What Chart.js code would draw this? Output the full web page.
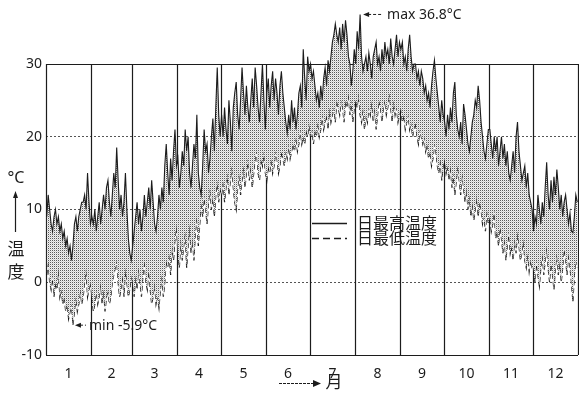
<!DOCTYPE html>
<html lang="ja">
<head>
<meta charset="utf-8">
<title>日最高温度・日最低温度</title>
<script src="https://cdn.jsdelivr.net/npm/chart.js@4/dist/chart.umd.min.js"></script>
<style>
    html, body { margin: 0; padding: 0; background: #fff; }
    #wrap { width: 579px; height: 393px; }
</style>
</head>
<body>
<div id="wrap"><canvas id="tempChart" width="579" height="393"></canvas></div>
<script>
// --- Data (one row per month) ---
const monthLabels = ['1', '2', '3', '4', '5', '6', '7', '8', '9', '10', '11', '12'];
const monthDays = [31, 28, 31, 30, 31, 30, 31, 31, 30, 31, 30, 31];
const yTicks = [-10, 0, 10, 20, 30];
const seriesLabels = ['日最高温度', '日最低温度'];

const dailyHigh = [
    [9, 12, 10, 8, 7, 9, 10, 8, 9, 7, 8, 6, 7, 5, 6, 4, 5, 3, 5, 8, 9, 7, 9, 10, 11, 11, 12, 10, 15, 11, 8],
    [9, 8, 10, 7, 9, 11, 8, 10, 12, 10, 13, 14, 11, 9, 12, 15, 13, 18.5, 14, 10, 12, 9, 11, 15, 10, 6, 4, 3],
    [5, 7, 9, 11, 8, 10, 7, 9, 12, 9, 11, 13, 10, 14, 11, 8, 7, 9, 12, 10, 13, 11, 16, 19, 15, 12, 17, 14, 18, 21, 16],
    [17, 13, 15, 18, 16, 21, 18, 20, 15, 13, 16, 19, 17, 23, 15, 13, 12, 16, 21, 18, 19, 15, 17, 20, 22.5, 18, 24, 29.5, 23, 20],
    [23, 20, 24, 21, 19, 25, 22, 18, 24, 26, 27.5, 23, 21, 25, 29.5, 26, 23, 27, 24, 22, 25, 28, 24, 29.5, 27, 24, 22, 26, 30, 25, 21],
    [26, 28, 24, 27, 29, 25, 28, 26, 23, 27, 29, 26, 24, 22, 20.5, 23, 21, 25, 22, 24, 21, 23, 26, 27, 24, 32, 28, 25, 31, 29],
    [30, 28, 29, 27, 25, 26, 24, 27, 25, 28, 29.5, 27, 30.5, 29, 31, 33, 34, 35.5, 34, 33, 35, 32, 35.5, 33, 36, 34, 31, 30, 27, 29, 32],
    [30, 34.5, 32, 36.8, 31, 29, 30, 31, 29, 31.5, 30, 28, 31, 32, 33, 30, 31, 29, 32, 30, 33, 31, 32, 30, 33.5, 31, 30, 32, 34, 31, 33],
    [32, 33, 30, 31, 29, 32, 34, 31, 29, 30, 30, 28, 29, 27, 29, 28, 26, 27, 25, 26, 24, 27, 29, 30.5, 28, 26, 24, 22, 25, 23],
    [22, 20, 23, 21, 24, 22, 26, 27.5, 23, 21, 20, 22, 19, 24.5, 23, 21, 19, 18, 20, 22, 23, 25, 24, 27, 25, 22, 20, 18, 17, 19, 21],
    [21, 19, 17, 20, 18, 20, 16, 18, 20, 17, 19, 16, 18, 15, 14, 16, 18, 15, 20, 22, 18, 16, 14, 15, 16, 13, 15, 12, 11, 10],
    [7, 9, 8, 12, 10, 8, 11, 9, 13, 16.5, 12, 10, 14, 11, 14.5, 12, 15.5, 13, 10, 12, 9, 11, 12, 10, 8, 9.5, 7, 6.8, 9, 12, 11]
];

const dailyLow = [
    [1, 3, 0, -1, 1, -2, 0, -1, 2, -2, -1, -3, -2, -4, -3, -5, -4, -3, -5.9, -4, -2, -4, -3, -1, -3, -2, 0, 2, -2, -1, 0],
    [-2, -4, -3, -1, -3, -2, 0, -3, -1, -4, -2, -1, -3, -2, 0, 1, 2, 3, 0, -2, -1, 1, -2, 2, 0, -2, -1, 1],
    [0, -2, 1, -1, 2, 0, -2, 1, 3, 0, -1, 2, -1, -3, -2, 0, -3, -2, -3.5, -1, 1, -2, 0, 3, 2, 4, 1, 5, 3, 6, 8],
    [4, 2, 6, 3, 5, 7, 2, 5, 8, 4, 6, 3, 7, 9, 5, 8, 11, 9, 12, 10, 8, 11, 13, 10, 12, 9, 12, 14, 11, 13],
    [12, 14, 11, 13, 15, 12, 14, 16, 13, 11, 10, 13, 15, 12, 14, 16, 13, 15, 17, 14, 16, 13, 15, 17, 18, 15, 14, 17, 16, 18, 15],
    [14, 16, 15, 17, 15, 16, 18, 17, 15, 16, 18, 17, 16, 18, 17, 19, 17, 18, 19, 18, 20, 18, 19, 21, 19, 20, 19, 21, 20, 22],
    [20, 21, 19, 21, 20, 22, 20, 21, 23, 21, 22, 23, 21, 24, 22, 23, 24, 22, 25, 24, 23, 25, 24, 22, 25, 24, 26, 23, 25, 22, 24],
    [25, 24, 26, 23, 22, 24, 21, 23, 22, 24, 23, 25, 22, 24, 21, 23, 25, 24, 22, 24, 25, 23, 24, 26, 24, 22, 25, 23, 24, 22, 23],
    [24, 22, 23, 21, 22, 23, 21, 22, 20, 21, 22, 20, 19, 21, 20, 19, 20, 18, 19, 17, 18, 16, 17, 19, 18, 16, 15, 17, 14, 16],
    [17, 15, 16, 14, 16, 13, 15, 12, 14, 16, 14, 12, 15, 13, 11, 13, 10, 12, 9, 11, 8.5, 10, 12, 9, 11, 10, 8, 9, 7, 10, 8],
    [9, 7, 8, 10, 6, 7, 5, 8, 6, 4, 6, 3, 5, 7, 4, 5, 3, 6, 4, 7, 5, 3, 4, 6, 3, 2, 4, 1.5, 3, 2],
    [2, 0, 3, 1, -0.5, 2, 4, 1, 3, 5, 2, 0, 3, 1, -1, 2, 4, 1, 3, 0, 2, 5, 3, 1, 4, 2, 0, -2.7, 1, 3, 2]
];

// --- Derived values ---
const monthStarts = monthDays.reduce((acc, d) => { acc.push(acc[acc.length - 1] + d); return acc; }, [0]);
const monthCenters = monthDays.map((d, i) => monthStarts[i] + d / 2);
const toPoints = rows => rows.flat().map((v, i) => ({ x: i + 0.5, y: v }));

const INK = '#1c1c1c';
const NUM_FONT = '"Noto Sans", sans-serif';
const JP_FONT = '"Noto Sans CJK JP", sans-serif';

// halftone dots for the band between the two lines
function dotPattern() {
    const c = document.createElement('canvas');
    c.width = 2; c.height = 2;
    const g = c.getContext('2d');
    g.fillStyle = '#f0f0f0'; g.fillRect(0, 0, 2, 2);
    g.fillStyle = '#5a5a5a'; g.fillRect(0, 0, 1, 1);
    g.fillStyle = '#d0d0d0'; g.fillRect(1, 1, 1, 1);
    return g.createPattern(c, 'repeat');
}

function arrowLeft(ctx, tipX, endX, y) {
    ctx.setLineDash([3, 2]);
    ctx.beginPath(); ctx.moveTo(tipX + 5, y); ctx.lineTo(endX, y); ctx.stroke();
    ctx.setLineDash([]);
    ctx.beginPath();
    ctx.moveTo(tipX, y); ctx.lineTo(tipX + 6, y - 2.5); ctx.lineTo(tipX + 6, y + 2.5);
    ctx.closePath(); ctx.fill();
}

// month frame: vertical lines at month boundaries, solid top (30) and bottom (-10)
const frame = {
    id: 'frame',
    beforeDatasetsDraw(chart) {
        const { ctx, scales: { x, y } } = chart;
        const top = y.getPixelForValue(30), bottom = y.getPixelForValue(-10);
        ctx.save();
        ctx.strokeStyle = INK;
        ctx.lineWidth = 1.2;
        monthStarts.forEach(d => {
            const px = Math.round(x.getPixelForValue(d)) + 0.5;
            ctx.beginPath(); ctx.moveTo(px, top); ctx.lineTo(px, bottom); ctx.stroke();
        });
        [top, bottom].forEach(py => {
            ctx.beginPath();
            ctx.moveTo(x.getPixelForValue(0), Math.round(py) + 0.5);
            ctx.lineTo(x.getPixelForValue(365), Math.round(py) + 0.5);
            ctx.stroke();
        });
        ctx.restore();
    },
    afterDatasetsDraw(chart) {
        const { ctx, scales: { x, y } } = chart;
        const hi = chart.data.datasets[0].data;
        const lo = chart.data.datasets[1].data;
        const maxPt = hi.reduce((a, b) => (b.y > a.y ? b : a));
        const minPt = lo.reduce((a, b) => (b.y < a.y ? b : a));

        ctx.save();
        ctx.fillStyle = INK;
        ctx.strokeStyle = INK;
        ctx.lineWidth = 1;
        ctx.textBaseline = 'middle';
        ctx.textAlign = 'left';
        ctx.font = '14px ' + NUM_FONT;

        // max / min callouts
        let px = x.getPixelForValue(maxPt.x), py = y.getPixelForValue(maxPt.y);
        arrowLeft(ctx, px + 3, px + 23, py);
        ctx.fillText('max ' + maxPt.y.toFixed(1) + '°C', px + 27, py + 1);

        px = x.getPixelForValue(minPt.x); py = y.getPixelForValue(minPt.y);
        arrowLeft(ctx, px + 2, px + 13, py);
        ctx.fillText('min -' + Math.abs(minPt.y).toFixed(1) + '°C', px + 16, py + 1);

        // legend
        const lx = 312, ly = 223;
        ctx.lineWidth = 1.3;
        ctx.beginPath(); ctx.moveTo(lx, ly + 0.5); ctx.lineTo(lx + 35, ly + 0.5); ctx.stroke();
        ctx.setLineDash([7, 4]);
        ctx.beginPath(); ctx.moveTo(lx, ly + 15.5); ctx.lineTo(lx + 35, ly + 15.5); ctx.stroke();
        ctx.setLineDash([]);
        ctx.font = '16px ' + JP_FONT;
        ctx.fillText(seriesLabels[0], lx + 45, ly);
        ctx.fillText(seriesLabels[1], lx + 45, ly + 15);

        // y title: °C ↑ 温 度
        ctx.textAlign = 'center';
        ctx.font = '16px ' + NUM_FONT;
        ctx.fillText('°C', 16, 178);
        ctx.lineWidth = 1.2;
        ctx.beginPath(); ctx.moveTo(15.5, 232); ctx.lineTo(15.5, 196); ctx.stroke();
        ctx.beginPath(); ctx.moveTo(15.5, 191); ctx.lineTo(13, 198); ctx.lineTo(18, 198); ctx.closePath(); ctx.fill();
        ctx.font = '17px ' + JP_FONT;
        ctx.fillText('温', 16, 249);
        ctx.fillText('度', 16, 272);

        // x title: ──▸月
        ctx.setLineDash([3, 1]);
        ctx.beginPath(); ctx.moveTo(279, 383.5); ctx.lineTo(314, 383.5); ctx.stroke();
        ctx.setLineDash([]);
        ctx.beginPath(); ctx.moveTo(321, 383.5); ctx.lineTo(313, 380); ctx.lineTo(313, 387); ctx.closePath(); ctx.fill();
        ctx.font = '17px ' + JP_FONT;
        ctx.fillText('月', 334, 382);
        ctx.restore();
    }
};

new Chart(document.getElementById('tempChart'), {
    type: 'line',
    data: {
        datasets: [
            {
                label: seriesLabels[0],
                data: toPoints(dailyHigh),
                borderColor: INK,
                borderWidth: 1.1,
                backgroundColor: dotPattern(),
                fill: '+1',
                pointRadius: 0,
                tension: 0
            },
            {
                label: seriesLabels[1],
                data: toPoints(dailyLow),
                borderColor: '#111',
                borderWidth: 1.2,
                borderDash: [5, 3],
                fill: false,
                pointRadius: 0,
                tension: 0
            }
        ]
    },
    options: {
        responsive: false,
        animation: false,
        layout: { padding: { top: 13, right: 1, left: 0, bottom: 0 } },
        plugins: { legend: { display: false }, tooltip: { enabled: false } },
        scales: {
            x: {
                type: 'linear',
                min: 0,
                max: 365,
                grid: { display: false },
                border: { display: false },
                afterBuildTicks: axis => { axis.ticks = monthCenters.map(v => ({ value: v })); },
                afterFit: scale => { scale.height = 38; },
                ticks: {
                    autoSkip: false,
                    maxRotation: 0,
                    padding: 3,
                    color: INK,
                    font: { family: NUM_FONT, size: 14 },
                    callback: (value, index) => monthLabels[index]
                }
            },
            y: {
                min: -10,
                max: 37,
                afterBuildTicks: axis => { axis.ticks = yTicks.map(v => ({ value: v })); },
                afterFit: scale => { scale.width = 46; },
                grid: {
                    drawTicks: false,
                    lineWidth: 1,
                    color: c => (c.tick && c.tick.value > -10 && c.tick.value < 30 ? '#555' : 'rgba(0,0,0,0)')
                },
                border: { display: false, dash: [2, 2] },
                ticks: {
                    padding: 4,
                    color: INK,
                    font: { family: NUM_FONT, size: 14 }
                }
            }
        }
    },
    plugins: [frame]
});
</script>
</body>
</html>
